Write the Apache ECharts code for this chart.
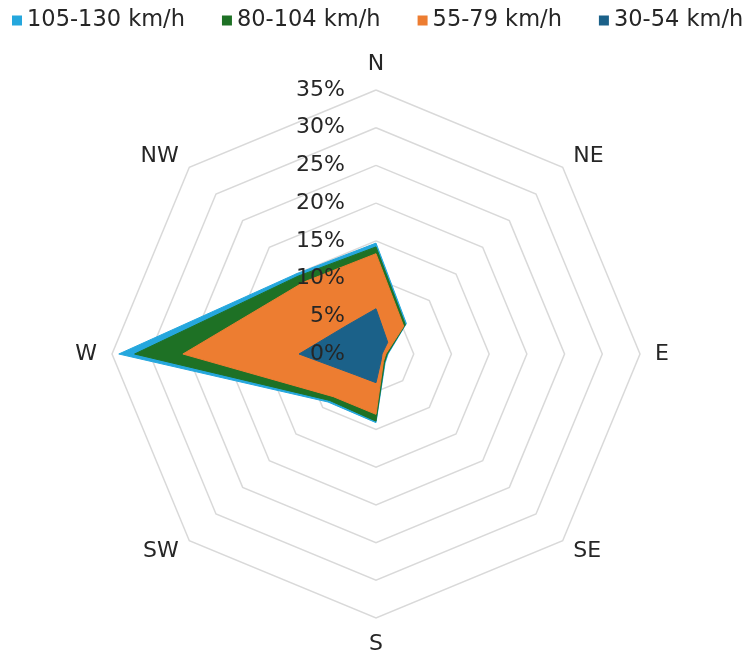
<!DOCTYPE html>
<html>
<head>
<meta charset="utf-8">
<script src="https://cdn.jsdelivr.net/npm/echarts@6/dist/echarts.min.js"></script>
<style>html,body{margin:0;padding:0;background:#fff;}#c{width:746px;height:655px;}</style>
</head>
<body>
<div id="c"></div>
<script>
// Directions in clockwise order from North
var directions = ['N', 'NE', 'E', 'SE', 'S', 'SW', 'W', 'NW'];
var seriesNames = ['105-130 km/h', '80-104 km/h', '55-79 km/h', '30-54 km/h'];
var v105_130 = [14.7, 5.7, 1.6, 1.7, 9.1, 9.0, 34.1, 15.0];
var v80_104  = [14.2, 5.5, 1.5, 1.6, 8.9, 8.7, 32.0, 14.6];
var v55_79   = [13.3, 5.2, 1.3, 1.4, 8.0, 8.0, 25.6, 13.5];
var v30_54   = [6.0, 2.2, 0.8, 1.0, 3.8, 3.9, 10.2, 5.4];
var axisMax = 35;
var tickStep = 5;

var colors = ['#25a7dd', '#1e7125', '#ed7d31', '#1b6189'];
var FONT = 'DejaVu Sans, Verdana, sans-serif';
var TXT = '#262626';

// ECharts radar lays indicators counter-clockwise; reorder to display clockwise
var order = [0, 7, 6, 5, 4, 3, 2, 1];
function reorder(arr) { return order.map(function (i) { return arr[i]; }); }

var indicatorMain = order.map(function (i) {
  return { name: directions[i], max: axisMax, min: 0 };
});
// overlay radar (same geometry) that only carries the tick labels, drawn above the fills
var indicatorLabels = order.map(function (i, k) {
  var ind = { name: directions[i], max: axisMax, min: 0 };
  if (k === 0) {
    ind.axisLabel = {
      show: true, formatter: '{value}%', fontSize: 22, color: TXT,
      fontFamily: FONT, margin: 31
    };
  }
  return ind;
});

var allValues = [v105_130, v80_104, v55_79, v30_54];
var data = allValues.map(function (vals, idx) {
  return {
    name: seriesNames[idx],
    value: reorder(vals),
    itemStyle: { color: colors[idx] },
    lineStyle: { color: colors[idx], width: 1 },
    areaStyle: { color: colors[idx], opacity: 1 },
    symbol: 'none'
  };
});

var common = {
  center: [376, 354],
  radius: 264,
  startAngle: 90,
  splitNumber: axisMax / tickStep,
  shape: 'polygon'
};

var chart = echarts.init(document.getElementById('c'), null, { renderer: 'canvas' });
chart.setOption({
  animation: false,
  backgroundColor: '#fff',
  textStyle: { fontFamily: FONT },
  legend: {
    data: seriesNames,
    top: 9,
    left: 12,
    width: 745,
    padding: 0,
    itemWidth: 10,
    itemHeight: 10,
    itemGap: 37,
    icon: 'rect',
    textStyle: { fontSize: 22.5, color: TXT, fontFamily: FONT }
  },
  radar: [
    Object.assign({}, common, {
      z: 1,
      indicator: indicatorMain,
      axisName: { color: TXT, fontSize: 22, fontFamily: FONT },
      nameGap: 15,
      axisLine: { show: false },
      axisTick: { show: false },
      axisLabel: { show: false },
      splitArea: { show: false },
      splitLine: { lineStyle: { color: '#d9d9d9', width: 1.5 } }
    }),
    Object.assign({}, common, {
      z: 10,
      indicator: indicatorLabels,
      axisName: { show: false },
      axisLine: { show: false },
      axisTick: { show: false },
      axisLabel: { show: false },
      splitArea: { show: false },
      splitLine: { show: false }
    })
  ],
  series: [{
    type: 'radar',
    radarIndex: 0,
    z: 2,
    symbol: 'none',
    data: data
  }]
});
</script>
</body>
</html>
